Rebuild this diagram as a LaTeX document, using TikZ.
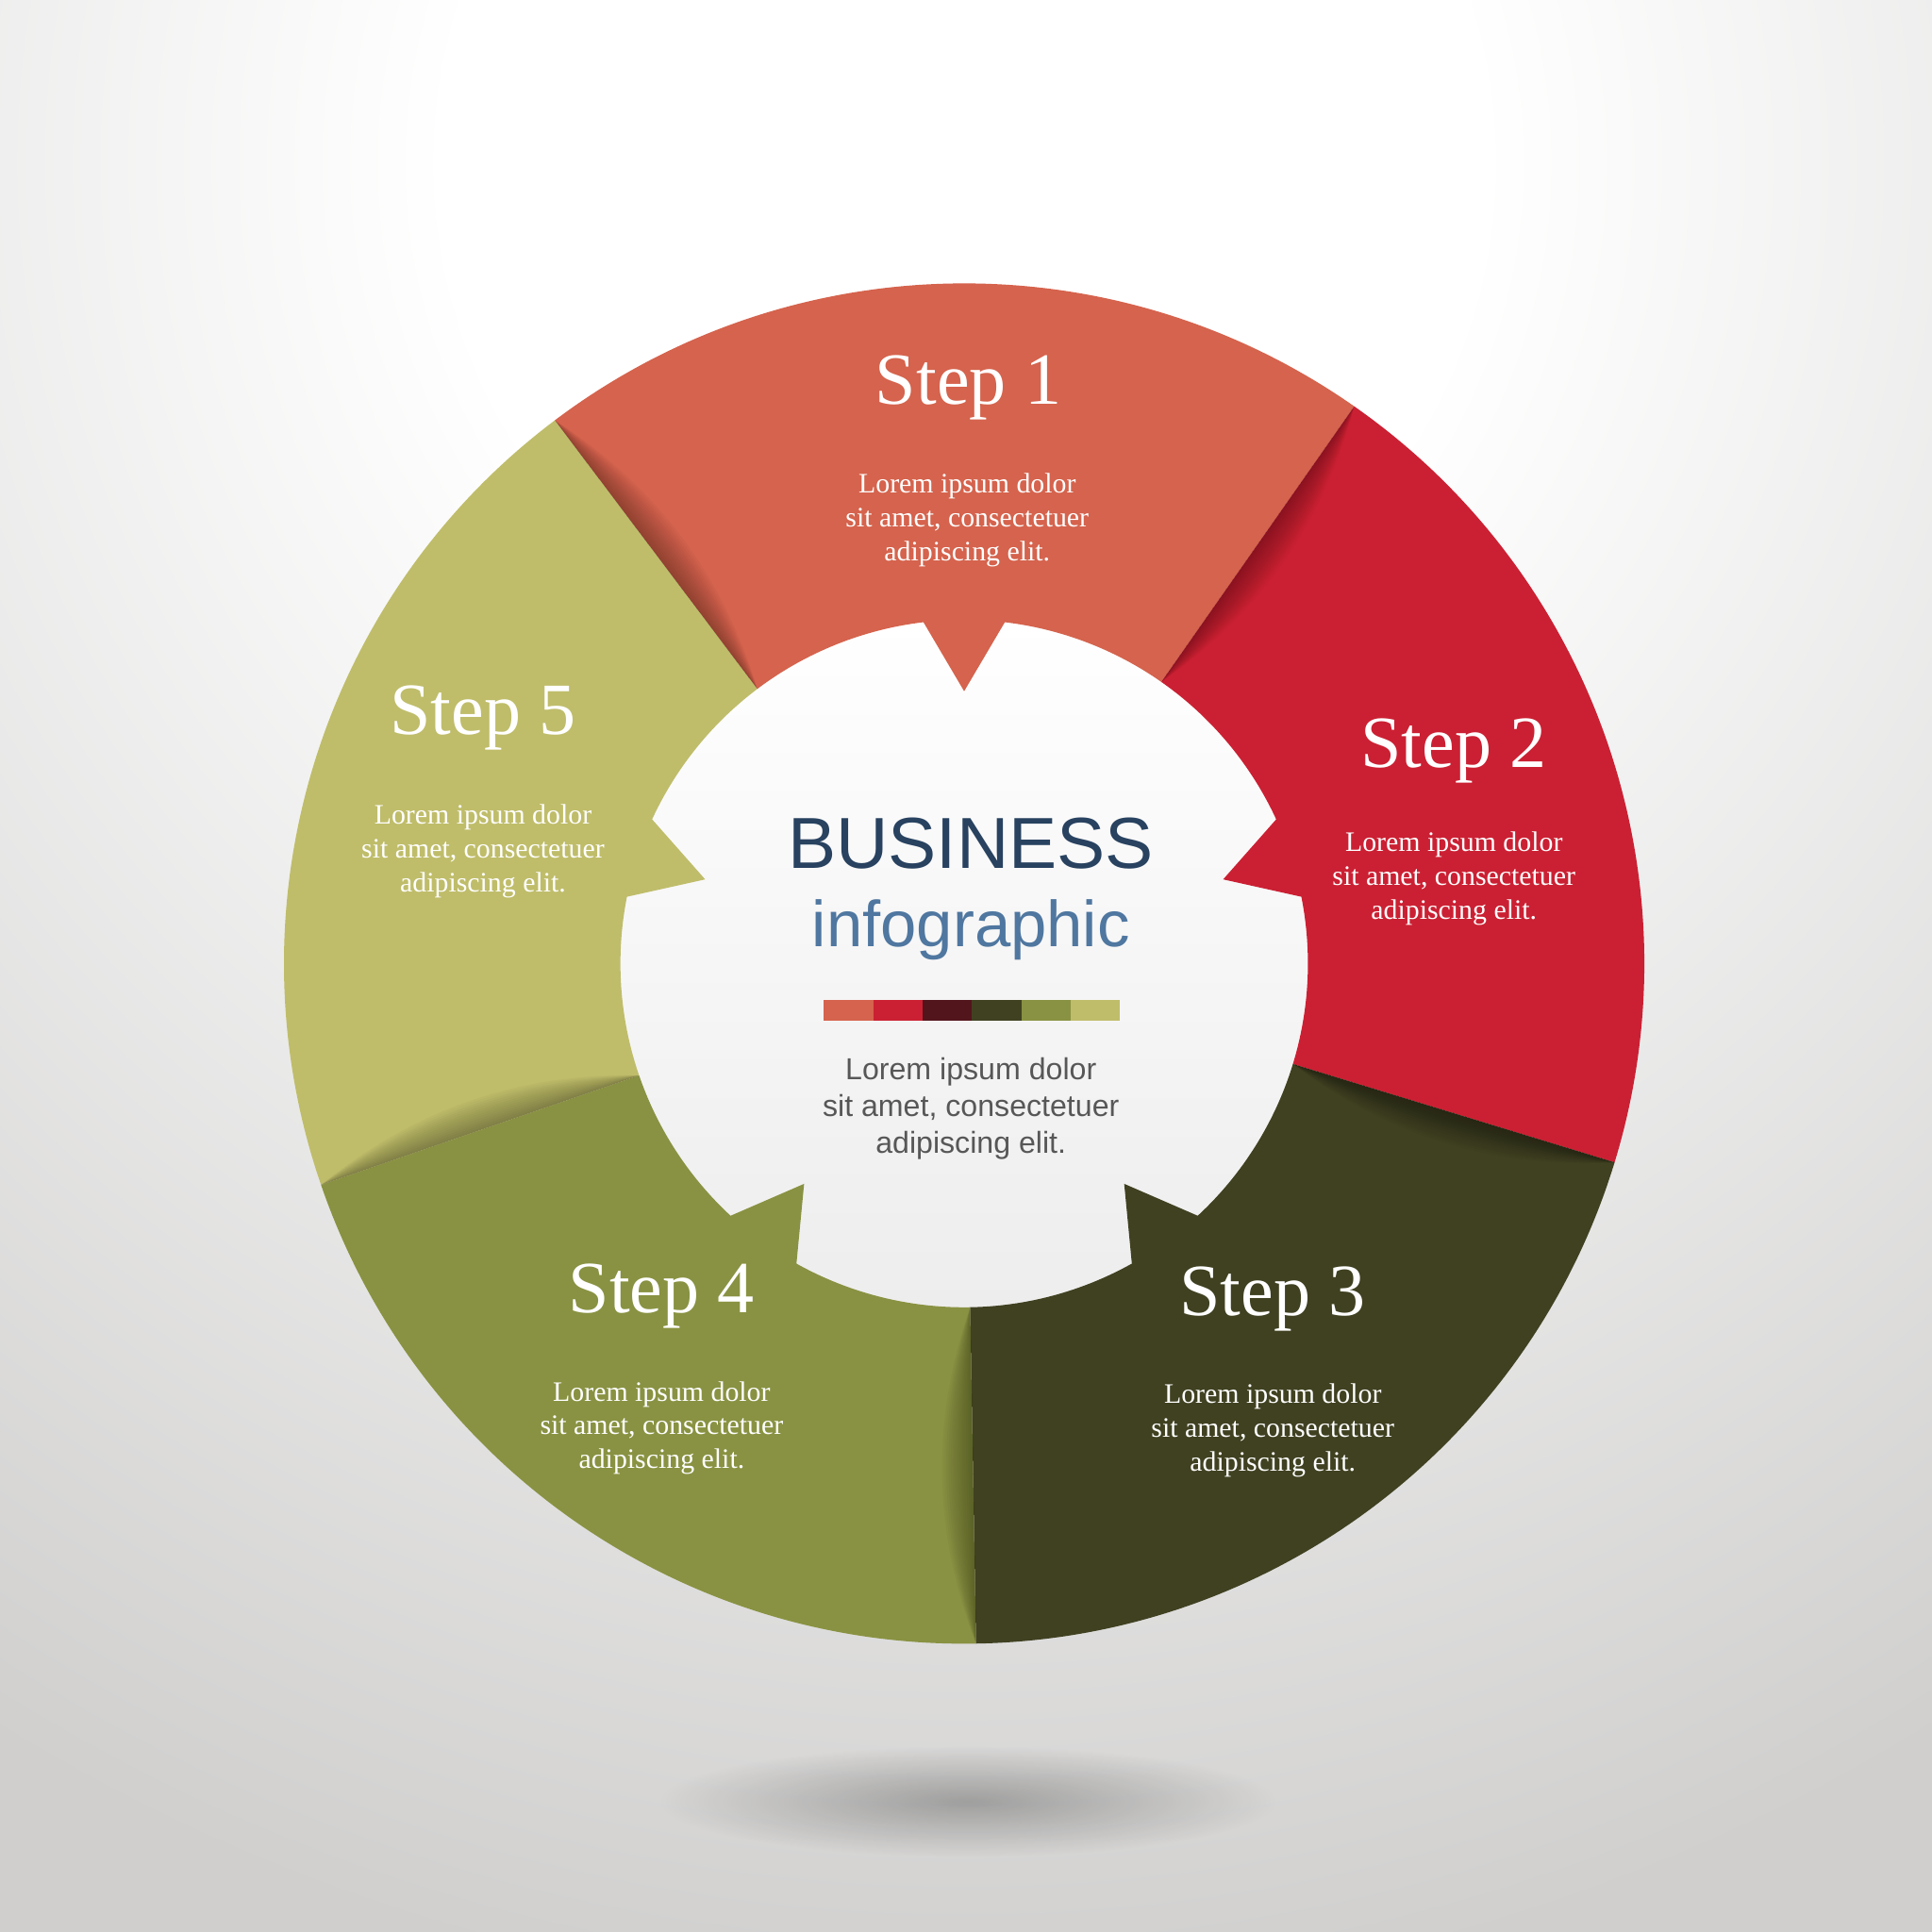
\documentclass[tikz,border=0pt]{standalone}
\usepackage{fontspec}
\setmainfont{Liberation Serif}
\setsansfont{Liberation Sans}
\usepackage{tikz}
\usetikzlibrary{fadings}

\definecolor{stepone}{HTML}{D5634D}
\definecolor{steptwo}{HTML}{CB2033}
\definecolor{stepthree}{HTML}{404121}
\definecolor{stepfour}{HTML}{899242}
\definecolor{stepfive}{HTML}{BFBD6A}
\definecolor{barmaroon}{HTML}{52151C}
\definecolor{titleblue}{HTML}{284260}
\definecolor{subblue}{HTML}{4F77A0}
\definecolor{blurbgray}{HTML}{575757}
\definecolor{bggray}{HTML}{D0CFCE}
\definecolor{innergray}{HTML}{EEEDED}

\pgfdeclareradialshading{backdrop}{\pgfpointorigin}{color(0bp)=(white); color(7bp)=(white); color(25bp)=(bggray); color(50bp)=(bggray)}
\tikzfading[name=softspot, inner color=transparent!0, outer color=transparent!100]

\begin{document}
\begin{tikzpicture}[
    steplabel/.style={text=white, anchor=base, font=\fontsize{17}{20}\selectfont},
    stepnote/.style={text=white, align=center, inner sep=0pt, font=\fontsize{6.5}{7.8}\selectfont},
    fold/.style={black, opacity=0.025},
    centertext/.style={anchor=base, font=\sffamily}
]

    % Fondo
    \useasboundingbox (-7.825,-7.86) rectangle (7.855,7.82);
    \fill[bggray] (-7.825,-7.86) rectangle (7.855,7.82);
    \shade[shading=backdrop] (0,6.5) circle (15);
    \fill[black, opacity=0.26, path fading=softspot] (0.03,-6.8) ellipse (2.5 and 0.45);

    % Disco central
    \shade[top color=white, bottom color=innergray] (0,0) circle (2.8);

    % Sectores
    \fill[stepone] (127:5.52) arc[start angle=127, end angle=55, radius=5.52]
        -- (55:2.79) arc[start angle=55, end angle=83.2, radius=2.79]
        -- (90:2.21) -- (96.8:2.79) arc[start angle=96.8, end angle=127, radius=2.79] -- cycle;
    \fill[steptwo] (55:5.52) arc[start angle=55, end angle=-17, radius=5.52]
        -- (-17:2.79) arc[start angle=-17, end angle=11.2, radius=2.79]
        -- (18:2.21) -- (24.8:2.79) arc[start angle=24.8, end angle=55, radius=2.79] -- cycle;
    \fill[stepthree] (-17:5.52) arc[start angle=-17, end angle=-89, radius=5.52]
        -- (-89:2.79) arc[start angle=-89, end angle=-60.8, radius=2.79]
        -- (-54:2.21) -- (-47.2:2.79) arc[start angle=-47.2, end angle=-17, radius=2.79] -- cycle;
    \fill[stepfour] (-89:5.52) arc[start angle=-89, end angle=-161, radius=5.52]
        -- (-161:2.79) arc[start angle=-161, end angle=-132.8, radius=2.79]
        -- (-126:2.21) -- (-119.2:2.79) arc[start angle=-119.2, end angle=-89, radius=2.79] -- cycle;
    \fill[stepfive] (-161:5.52) arc[start angle=-161, end angle=-233, radius=5.52]
        -- (-233:2.79) arc[start angle=-233, end angle=-204.8, radius=2.79]
        -- (-198:2.21) -- (-191.2:2.79) arc[start angle=-191.2, end angle=-161, radius=2.79] -- cycle;

    % Pliegues
    \foreach \edge in {127,55,-17,-89,-161}
        \foreach \w in {0.024,0.048,...,0.36}
            \fill[fold, rotate=\edge] (2.79,0) .. controls (3.7,-\w) and (4.6,-\w) .. (5.52,0) -- cycle;

    % Textos de los pasos
    \node[steplabel] (step1) at (0.035,4.54) {Step 1};
    \node[stepnote] (note1) at (0.025,3.60) {Lorem ipsum dolor\\sit amet, consectetuer\\adipiscing elit.};

    \node[steplabel] (step2) at (3.975,1.59) {Step 2};
    \node[stepnote] (note2) at (3.975,0.69) {Lorem ipsum dolor\\sit amet, consectetuer\\adipiscing elit.};

    \node[steplabel] (step3) at (2.505,-2.86) {Step 3};
    \node[stepnote] (note3) at (2.505,-3.79) {Lorem ipsum dolor\\sit amet, consectetuer\\adipiscing elit.};

    \node[steplabel] (step4) at (-2.455,-2.83) {Step 4};
    \node[stepnote] (note4) at (-2.455,-3.77) {Lorem ipsum dolor\\sit amet, consectetuer\\adipiscing elit.};

    \node[steplabel] (step5) at (-3.905,1.86) {Step 5};
    \node[stepnote] (note5) at (-3.905,0.91) {Lorem ipsum dolor\\sit amet, consectetuer\\adipiscing elit.};

    % Centro
    \node[centertext, text=titleblue, font=\sffamily\fontsize{16.7}{20}\selectfont] (title) at (0.055,0.774) {BUSINESS};
    \node[centertext, text=subblue, font=\sffamily\fontsize{15}{18}\selectfont] (subtitle) at (0.055,0.14) {infographic};

    \fill[stepone]    (-1.140,-0.296) rectangle (-0.739,-0.465);
    \fill[steptwo]    (-0.739,-0.296) rectangle (-0.338,-0.465);
    \fill[barmaroon]  (-0.338,-0.296) rectangle (0.063,-0.465);
    \fill[stepthree]  (0.063,-0.296) rectangle (0.464,-0.465);
    \fill[stepfour]   (0.464,-0.296) rectangle (0.865,-0.465);
    \fill[stepfive]   (0.865,-0.296) rectangle (1.265,-0.465);

    \node[text=blurbgray, align=center, inner sep=0pt, font=\sffamily\fontsize{7}{8.5}\selectfont] (blurb) at (0.055,-1.18) {Lorem ipsum dolor\\sit amet, consectetuer\\adipiscing elit.};

\end{tikzpicture}
\end{document}
